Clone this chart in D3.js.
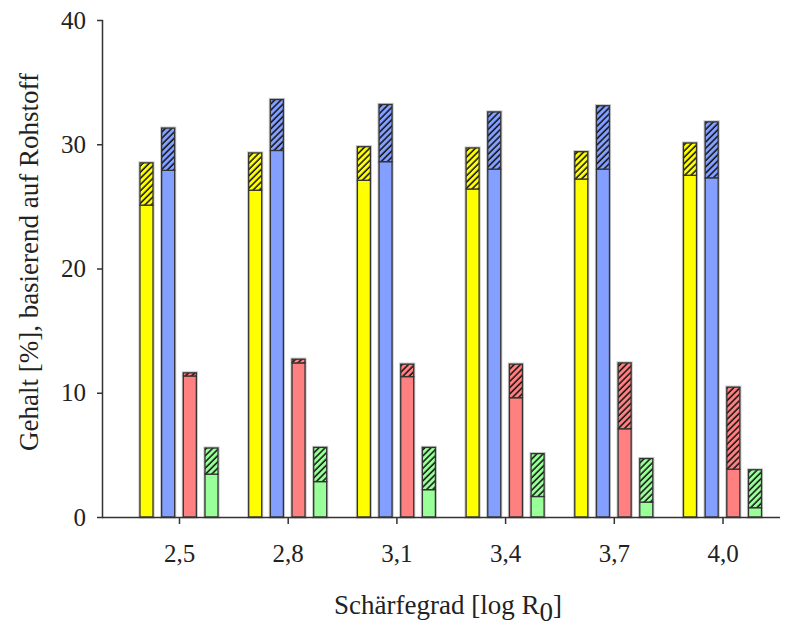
<!DOCTYPE html>
<html>
<head>
<meta charset="utf-8">
<script src="https://cdn.jsdelivr.net/npm/d3@7"></script>
<style>
  body { margin: 0; background: #fff; }
  svg text { font-family: "Liberation Serif", "DejaVu Serif", serif; fill: #222; }
</style>
</head>
<body>
<div id="chart"></div>
<script>
// categories on the x axis (log R0)
const categories = ["2,5", "2,8", "3,1", "3,4", "3,7", "4,0"];
const seriesNames = ["yellow", "blue", "red", "green"];

// solid part (bottom) and full height (top of hatched part), in %
const yellowBase  = [25.1, 26.3, 27.1, 26.4, 27.2, 27.5];
const yellowTotal = [28.5, 29.3, 29.8, 29.7, 29.4, 30.1];
const blueBase    = [27.9, 29.5, 28.6, 28.0, 28.0, 27.3];
const blueTotal   = [31.3, 33.6, 33.2, 32.6, 33.1, 31.8];
const redBase     = [11.35, 12.4, 11.3, 9.6, 7.1, 3.85];
const redTotal    = [11.6, 12.7, 12.3, 12.3, 12.4, 10.45];
const greenBase   = [3.45, 2.85, 2.2, 1.65, 1.2, 0.75];
const greenTotal  = [5.55, 5.6, 5.6, 5.1, 4.7, 3.8];

const yTicks = [0, 10, 20, 30, 40];

const colors = {
  yellow: "#ffff00",
  blue: "#839fff",
  red: "#ff8080",
  green: "#99ff99"
};

const bases  = { yellow: yellowBase, blue: blueBase, red: redBase, green: greenBase };
const totals = { yellow: yellowTotal, blue: blueTotal, red: redTotal, green: greenTotal };

const width = 787, height = 628;
const axisLeft = 103, axisRight = 780, axisTop = 20, axisBottom = 517;

const svg = d3.select("#chart").append("svg")
  .attr("width", width)
  .attr("height", height);

// hatch patterns, one per colour
const defs = svg.append("defs");
seriesNames.forEach(s => {
  const p = defs.append("pattern")
    .attr("id", "hatch-" + s)
    .attr("patternUnits", "userSpaceOnUse")
    .attr("width", 4.4)
    .attr("height", 4.4)
    .attr("patternTransform", "rotate(45)");
  p.append("rect").attr("width", 4.4).attr("height", 4.4).attr("fill", colors[s]);
  p.append("line")
    .attr("x1", 1).attr("y1", 0).attr("x2", 1).attr("y2", 4.4)
    .attr("stroke", "#111").attr("stroke-width", 1.5);
});

const y = d3.scaleLinear().domain([0, 40]).range([axisBottom, axisTop]);
const x = d3.scalePoint().domain(categories).range([179, 722.5]);
const xs = d3.scaleBand().domain(seriesNames).range([-39, 39]).paddingInner(0.4).paddingOuter(0);

// bars
const rows = [];
categories.forEach((c, i) => {
  seriesNames.forEach(s => {
    rows.push({ cat: c, s: s, base: bases[s][i], total: totals[s][i] });
  });
});

const g = svg.append("g");

// light halo around each bar
g.selectAll("rect.halo").data(rows).enter().append("rect")
  .attr("class", "halo")
  .attr("x", d => x(d.cat) + xs(d.s))
  .attr("width", xs.bandwidth())
  .attr("y", d => y(d.total))
  .attr("height", d => y(0) - y(d.total))
  .attr("fill", "none")
  .attr("stroke", "#c8c8c8")
  .attr("stroke-width", 3.2);

g.selectAll("rect.solid").data(rows).enter().append("rect")
  .attr("class", "solid")
  .attr("x", d => x(d.cat) + xs(d.s))
  .attr("width", xs.bandwidth())
  .attr("y", d => y(d.base))
  .attr("height", d => y(0) - y(d.base))
  .attr("fill", d => colors[d.s])
  .attr("stroke", "#333")
  .attr("stroke-width", 1.3);

g.selectAll("rect.hatch").data(rows).enter().append("rect")
  .attr("class", "hatch")
  .attr("x", d => x(d.cat) + xs(d.s))
  .attr("width", xs.bandwidth())
  .attr("y", d => y(d.total))
  .attr("height", d => y(d.base) - y(d.total))
  .attr("fill", d => "url(#hatch-" + d.s + ")")
  .attr("stroke", "#333")
  .attr("stroke-width", 1.3);

// y axis
const yAxis = svg.append("g")
  .attr("transform", `translate(${axisLeft},0)`)
  .call(d3.axisLeft(y).tickValues(yTicks).tickSize(6).tickPadding(11));
yAxis.select(".domain").attr("d", `M-0.5,${axisTop}V${axisBottom}`).attr("stroke", "#333").attr("stroke-width", 1.5);
yAxis.selectAll(".tick line").attr("stroke", "#333").attr("stroke-width", 1.5);
yAxis.selectAll(".tick text").attr("font-size", 25).attr("font-family", "Liberation Serif").attr("fill", "#222");

// x axis
const xAxis = svg.append("g")
  .attr("transform", `translate(0,${axisBottom})`)
  .call(d3.axisBottom(x).tickSize(7).tickPadding(20));
xAxis.select(".domain").attr("d", `M${axisLeft - 1},0.5H${axisRight}`).attr("stroke", "#333").attr("stroke-width", 1.5);
xAxis.selectAll(".tick line").attr("stroke", "#333").attr("stroke-width", 1.5);
xAxis.selectAll(".tick text").attr("font-size", 25).attr("font-family", "Liberation Serif").attr("fill", "#222");

// axis titles
const xt = svg.append("text")
  .attr("x", 448)
  .attr("y", 614)
  .attr("text-anchor", "middle")
  .attr("font-size", 27);
xt.append("tspan").text("Schärfegrad [log R");
xt.append("tspan").attr("baseline-shift", "-25%").text("0");
xt.append("tspan").text("]");

svg.append("text")
  .attr("transform", "translate(38,262) rotate(-90)")
  .attr("text-anchor", "middle")
  .attr("font-size", 27)
  .text("Gehalt [%], basierend auf Rohstoff");
</script>
</body>
</html>
